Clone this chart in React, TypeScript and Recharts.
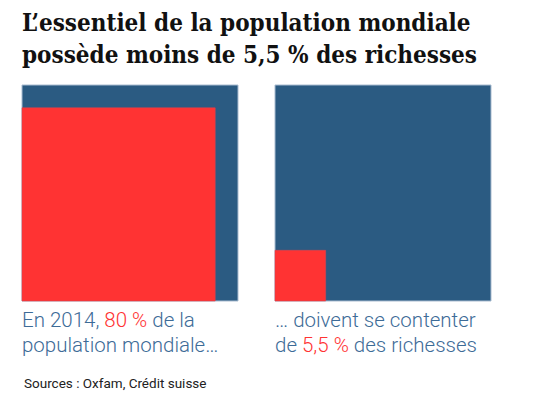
import React from "react";
import { ComposedChart, XAxis, YAxis, ReferenceArea } from "recharts";

// share of the world total (percent) held by the group shown in red
const panels = ["population", "richesses"];
const shares = [80, 5.5];
const captionsLine1 = [["En 2014, ", "80 %", " de la"], ["… doivent se contenter", "", ""]];
const captionsLine2 = [["population mondiale…", "", ""], ["de ", "5,5 %", " des richesses"]];

const BLUE = "#2b5b82";
const RED = "#ff3333";
const TEXT_BLUE = "#3d6b97";

function Square({ share }: { share: number }) {
  // area-proportional: side of the red square = sqrt(share)
  const side = Math.sqrt(share / 100);
  return (
    <ComposedChart width={218} height={218} data={[{ x: 0, y: 0 }]} margin={{ top: 1, right: 1, bottom: 1, left: 1 }}>
      <XAxis type="number" dataKey="x" domain={[0, 1]} hide />
      <YAxis type="number" dataKey="y" domain={[0, 1]} hide />
      <ReferenceArea x1={0} x2={1} y1={0} y2={1} fill={BLUE} fillOpacity={1} stroke="#a9bcd0" strokeWidth={1} />
      <ReferenceArea x1={0} x2={side} y1={0} y2={side} fill={RED} fillOpacity={1} stroke="#d8454f" strokeWidth={0.6} />
    </ComposedChart>
  );
}

export default function App() {
  const lefts = [21, 274];
  return (
    <div style={{ position: "absolute", left: 0, top: 0, width: 536, height: 398, background: "#fff", fontFamily: "Roboto, sans-serif" }}>
      <div style={{ position: "absolute", left: 22, top: 7, fontFamily: "'DejaVu Serif', serif", fontStretch: "condensed", fontWeight: 700, fontSize: 24, lineHeight: "32px", color: "#111", whiteSpace: "nowrap" }}>
        L’essentiel de la population mondiale
        <br />
        possède moins de 5,5 % des richesses
      </div>
      {panels.map((p, i) => (
        <div key={p} style={{ position: "absolute", left: lefts[i], top: 84 }}>
          <Square share={shares[i]} />
        </div>
      ))}
      {panels.map((p, i) => (
        <div key={p + "-t"} style={{ position: "absolute", left: lefts[i] + 1, top: 308, fontSize: 20.5, lineHeight: "25px", color: TEXT_BLUE, fontWeight: 300, whiteSpace: "nowrap" }}>
          <div>
            {captionsLine1[i][0]}
            <span style={{ color: RED }}>{captionsLine1[i][1]}</span>
            {captionsLine1[i][2]}
          </div>
          <div>
            {captionsLine2[i][0]}
            <span style={{ color: RED }}>{captionsLine2[i][1]}</span>
            {captionsLine2[i][2]}
          </div>
        </div>
      ))}
      <div style={{ position: "absolute", left: 24, top: 375, fontSize: 13.5, color: "#222" }}>Sources : Oxfam, Crédit suisse</div>
    </div>
  );
}
